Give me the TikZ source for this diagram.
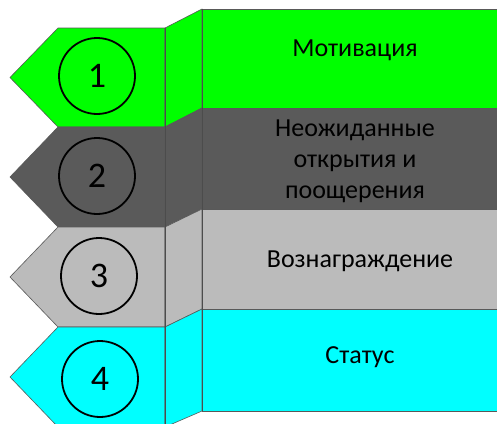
\documentclass[tikz,border=0pt]{standalone}
\usepackage{fontspec}
\setmainfont{Carlito}
\definecolor{motgreen}{RGB}{0,255,0}
\definecolor{surpgray}{RGB}{90,90,90}
\definecolor{rewgray}{RGB}{187,187,187}
\definecolor{statcyan}{RGB}{0,255,255}

\begin{document}
\begin{tikzpicture}[x=1pt, y=-1pt,
  band/.style={draw=gray!70!black, line width=0.6pt},
  seam/.style={draw=black!70, line width=0.9pt},
  numcircle/.style={circle, draw=black, line width=1.8pt, minimum size=76pt,
    inner sep=0pt, font=\fontsize{36}{36}\selectfont},
  caption/.style={align=center, font=\fontsize{26}{31}\selectfont}]
  \clip (0,0) rectangle (497,423);

  % row 1
  \filldraw[band, fill=motgreen] (58,28) -- (165,28) -- (165,127) -- (58,127) -- (10,77.5) -- cycle;
  \filldraw[band, fill=motgreen] (165,28) -- (202,9) -- (202,108) -- (165,127) -- cycle;
  \filldraw[band, fill=motgreen] (202,9) rectangle (510,108);
  % row 2
  \filldraw[band, fill=surpgray] (58,127) -- (165,127) -- (165,227) -- (58,227) -- (10,177) -- cycle;
  \filldraw[band, fill=surpgray] (165,127) -- (202,108) -- (202,209) -- (165,227) -- cycle;
  \filldraw[band, fill=surpgray] (202,108) rectangle (510,209);
  % row 3
  \filldraw[band, fill=rewgray] (58,227) -- (165,227) -- (165,327) -- (58,327) -- (10,277) -- cycle;
  \filldraw[band, fill=rewgray] (165,227) -- (202,209) -- (202,309) -- (165,327) -- cycle;
  \filldraw[band, fill=rewgray] (202,209) rectangle (510,309);
  % row 4
  \filldraw[band, fill=statcyan] (58,327) -- (165,327) -- (165,427) -- (58,427) -- (10,377) -- cycle;
  \filldraw[band, fill=statcyan] (165,327) -- (202,309) -- (202,411) -- (165,427) -- cycle;
  \filldraw[band, fill=statcyan] (202,309) rectangle (510,411);

  \draw[seam] (165,28) -- (165,427);
  \draw[seam] (202,9) -- (202,411);

  \node[numcircle] (c1) at (97,76) {1};
  \node[numcircle] (c2) at (97,176) {2};
  \node[numcircle] (c3) at (99,276) {3};
  \node[numcircle] (c4) at (100,379) {4};

  \node[caption] (t1) at (355,50) {Мотивация};
  \node[caption] (t2) at (355,161) {Неожиданные\\открытия и\\поощерения};
  \node[caption] (t3) at (360,261) {Вознаграждение};
  \node[caption] (t4) at (360,357) {Статус};
\end{tikzpicture}
\end{document}
